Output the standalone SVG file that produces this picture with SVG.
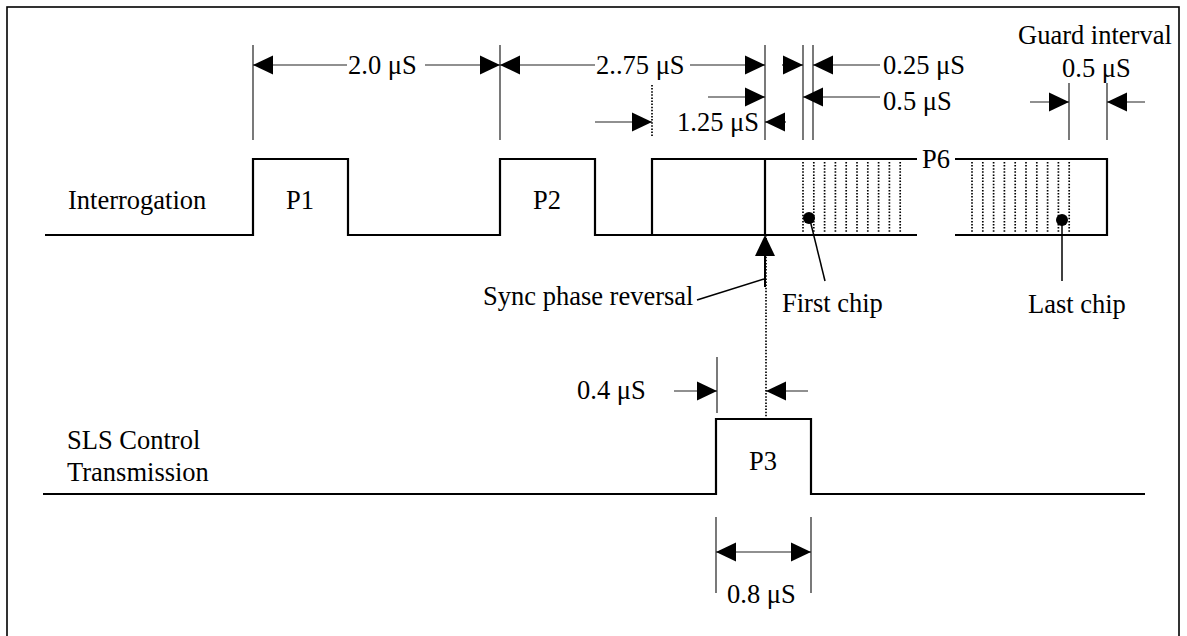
<svg xmlns="http://www.w3.org/2000/svg" width="1187" height="636" viewBox="0 0 1187 636">
<defs>
<style>
text{font-family:"Liberation Serif","Times New Roman",serif;font-size:26.5px;fill:#000}
.wave{fill:none;stroke:#000;stroke-width:2.2}
.dim{stroke:#222;stroke-width:1.2;fill:none}
.ext{stroke:#222;stroke-width:1.2}
.dot{stroke:#000;stroke-width:1.7;stroke-dasharray:1.5 1.6;fill:none}
.lead{stroke:#000;stroke-width:1.5;fill:none}
</style>
<marker id="ah" viewBox="0 0 20 20" refX="20" refY="10" markerWidth="20" markerHeight="20" markerUnits="userSpaceOnUse" orient="auto-start-reverse">
<path d="M0,0.5 L20,10 L0,19.5 z" fill="#000"/>
</marker>
</defs>
<rect x="7" y="7" width="1172" height="640" fill="#fff" stroke="#000" stroke-width="1.6"/>

<g id="interrogation">
<path class="wave" d="M45,235 H253 V159 H348 V235 H500 V159 H595 V235 H917 M652,235 V159 H917 M765,159 V235 M955,159 H1107 V235 H955"/>
<text x="68" y="209">Interrogation</text>
<text x="300" y="209" text-anchor="middle">P1</text>
<text x="547" y="209" text-anchor="middle">P2</text>
<text x="936" y="168" text-anchor="middle">P6</text>
</g>

<g id="chips">
<path class="dot" d="M803,162V233 M813.8,162V233 M824.6,162V233 M835.4,162V233 M846.2,162V233 M857,162V233 M867.8,162V233 M878.6,162V233 M889.4,162V233 M900.2,162V233"/>
<path class="dot" d="M972,162V233 M982.8,162V233 M993.6,162V233 M1004.4,162V233 M1015.2,162V233 M1026,162V233 M1036.8,162V233 M1047.6,162V233 M1058.4,162V233 M1069.2,162V233"/>
<circle cx="809" cy="218" r="6"/>
<circle cx="1062" cy="220" r="6"/>
</g>

<g id="first-chip">
<text x="782" y="312">First chip</text>
</g>
<g id="last-chip">
<text x="1028" y="313">Last chip</text>
</g>

<g id="sls">
<path class="wave" d="M43,494 H716 V419 H811 V494 H1145"/>
<text x="67" y="449">SLS Control</text>
<text x="67" y="481">Transmission</text>
<text x="763" y="470" text-anchor="middle">P3</text>
</g>

<g id="sync">
<text x="483" y="305">Sync phase reversal</text>
</g>

<g id="labels">
<text x="348" y="74">2.0 μS</text>
<text x="596" y="74">2..75 μS</text>
<text x="883" y="74">0.25 μS</text>
<text x="883" y="110">0.5 μS</text>
<text x="677" y="131">1.25 μS</text>
<text x="1018" y="44">Guard interval</text>
<text x="1062" y="77">0.5 μS</text>
<text x="577" y="399">0.4 μS</text>
<text x="727" y="603">0.8 μS</text>
</g>

<g id="connectors">
<path class="ext" d="M253,45V140 M500,45V140 M765,45V140 M803,45V140 M813,45V140 M1069,83V140 M1107,83V140 M717,357V413 M716,517V593 M811,517V593"/>
<path class="dot" d="M652,85V137"/>
<line class="dim" x1="347" y1="65" x2="253" y2="65" marker-end="url(#ah)"/>
<line class="dim" x1="425" y1="65" x2="500" y2="65" marker-end="url(#ah)"/>
<line class="dim" x1="595" y1="65" x2="500" y2="65" marker-end="url(#ah)"/>
<line class="dim" x1="690" y1="65" x2="765" y2="65" marker-end="url(#ah)"/>
<line class="dim" x1="782" y1="65" x2="803" y2="65" marker-end="url(#ah)"/>
<line class="dim" x1="880" y1="65" x2="813" y2="65" marker-end="url(#ah)"/>
<line class="dim" x1="708" y1="97" x2="765" y2="97" marker-end="url(#ah)"/>
<line class="dim" x1="880" y1="97" x2="803" y2="97" marker-end="url(#ah)"/>
<line class="dim" x1="595" y1="122" x2="652" y2="122" marker-end="url(#ah)"/>
<line class="dim" x1="786" y1="122" x2="765" y2="122" marker-end="url(#ah)"/>
<line class="dim" x1="1030" y1="102" x2="1069" y2="102" marker-end="url(#ah)"/>
<line class="dim" x1="1145" y1="102" x2="1107" y2="102" marker-end="url(#ah)"/>
<line class="dim" x1="674" y1="391" x2="717" y2="391" marker-end="url(#ah)"/>
<line class="dim" x1="808" y1="391" x2="766" y2="391" marker-end="url(#ah)"/>
<line class="dim" x1="716" y1="552" x2="811" y2="552" marker-start="url(#ah)" marker-end="url(#ah)"/>
<path class="dot" d="M766,235V419"/>
<line x1="765" y1="254" x2="765" y2="287" stroke="#000" stroke-width="2"/>
<polygon points="765,235 755,256 775,256" fill="#000"/>
<line class="lead" x1="697" y1="300" x2="764" y2="279"/>
<line class="lead" x1="810" y1="220" x2="825" y2="281"/>
<line class="lead" x1="1062" y1="220" x2="1062" y2="281"/>
</g>
</svg>
